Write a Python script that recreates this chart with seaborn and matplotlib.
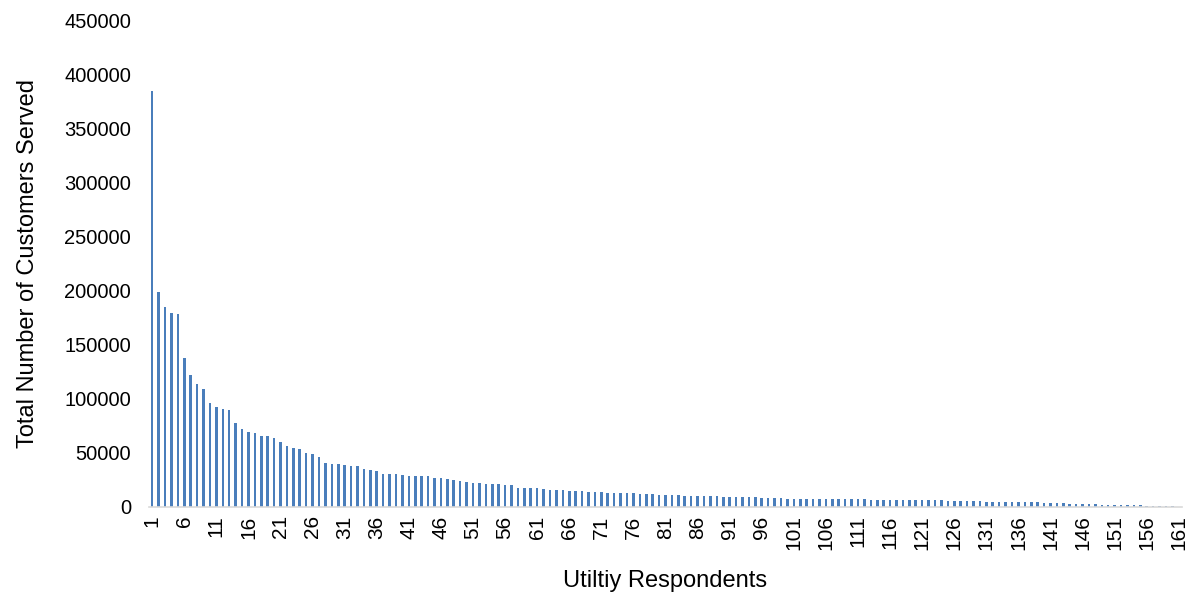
import numpy as np
import pandas as pd
import seaborn as sns
import matplotlib.pyplot as plt

# customers served per utility respondent, sorted descending
customers = [
    384400, 198700, 184500, 179300, 178300, 137700, 122000, 113300, 108700, 96100,
    92100, 90600, 89300, 77300, 71800, 69300, 68100, 65900, 65600, 63400,
    60100, 56400, 54200, 53300, 49900, 49000, 45900, 40300, 39700, 39300,
    38500, 37900, 37900, 35100, 34500, 33000, 30800, 30500, 30500, 29300,
    29000, 29000, 28600, 28600, 27100, 26500, 25600, 24900, 24000, 23100,
    21900, 21900, 21600, 21600, 20900, 20300, 20300, 17900, 17200, 17200,
    17200, 16300, 16000, 16000, 15700, 15100, 14800, 14800, 14200, 14200,
    13900, 13200, 12900, 12900, 12900, 12600, 12000, 11700, 11700, 11400,
    11100, 11100, 10800, 10500, 10200, 10200, 10200, 9900, 9900, 9200,
    9200, 9200, 8900, 8900, 8800, 8300, 8300, 8000, 8000, 7400,
    7400, 7400, 7400, 7400, 7400, 7100, 7100, 7100, 7100, 7100,
    7100, 7100, 6800, 6800, 6800, 6800, 6800, 6500, 6500, 6500,
    6500, 6500, 6200, 6200, 5900, 5900, 5500, 5500, 5500, 5200,
    4900, 4600, 4600, 4600, 4300, 4300, 4300, 4300, 4300, 4000,
    3700, 3400, 3400, 3100, 2800, 2800, 2500, 2500, 2200, 2100,
    2000, 1800, 1700, 1500, 1400, 1300, 1100, 1000, 800, 500,
    300,
]
respondents = list(range(1, len(customers) + 1))
tick_labels = [str(r) for r in respondents[::5]]

df = pd.DataFrame({"respondent": respondents, "customers": customers})

sns.set_style("white")
plt.rcParams["font.family"] = ["Liberation Sans", "DejaVu Sans"]

fig = plt.figure(figsize=(11.95, 5.98), dpi=100)
ax = fig.add_axes([149 / 1195, 1 - 507 / 598, 1033 / 1195, 487 / 598])
sns.barplot(data=df, x="respondent", y="customers", color="#4a7ebb",
            saturation=1, width=0.4, linewidth=0, ax=ax)

ax.set_ylim(0, 450000)
ax.set_yticks(np.arange(0, 450001, 50000))
ax.set_yticklabels([str(v) for v in range(0, 450001, 50000)], fontsize=14.5,
                   color="black")
ax.set_xlim(-0.5, len(customers) - 0.5)
ax.set_xticks(np.arange(0, len(customers), 5))
ax.set_xticklabels(tick_labels, rotation=90, fontsize=15, color="black")
ax.tick_params(axis="y", length=0, pad=13)
ax.tick_params(axis="x", length=0, pad=6)

ax.set_xlabel("Utiltiy Respondents", fontsize=17, labelpad=14, color="black")
ax.set_ylabel("Total Number of Customers Served", fontsize=17, labelpad=18,
              color="black")

sns.despine(ax=ax, left=True)
ax.spines["bottom"].set_color("#d9d9d9")
ax.spines["bottom"].set_linewidth(1.2)

fig.savefig("out.png", dpi=100)
plt.close(fig)
